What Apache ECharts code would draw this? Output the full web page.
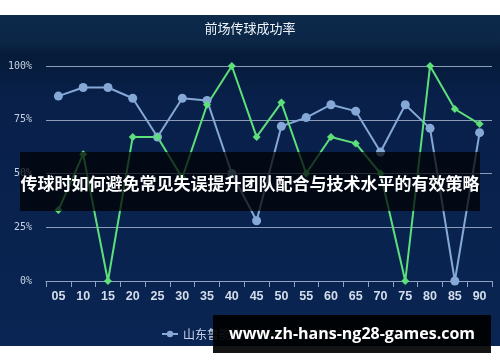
<!DOCTYPE html>
<html>
<head>
<meta charset="utf-8">
<script src="https://cdn.jsdelivr.net/npm/echarts@6/dist/echarts.min.js"></script>
<style>html,body{margin:0;padding:0;background:#fff}#c{width:500px;height:362px}</style>
</head>
<body>
<div id="c"></div>
<script>
const categories = ['05','10','15','20','25','30','35','40','45','50','55','60','65','70','75','80','85','90'];
const seriesNames = ['山东鲁能泰山', '广州恒大淘宝'];
const blueValues = [86, 90, 90, 85, 67, 85, 84, 50, 28, 72, 76, 82, 79, 60, 82, 71, 0, 69];
const greenValues = [33, 59, 0, 67, 67, 48, 82, 100, 67, 83, 50, 67, 64, 50, 0, 100, 80, 73];
const yTicks = [0, 25, 50, 75, 100];
const chartTitle = '前场传球成功率';
const overlayText = '传球时如何避免常见失误提升团队配合与技术水平的有效策略';
const watermarkText = 'www.zh-hans-ng28-games.com';

const chart = echarts.init(document.getElementById('c'));
chart.setOption({
  backgroundColor: '#ffffff',
  animation: false,
  title: {
    text: chartTitle, left: 'center', top: 17,
    textStyle: {color: '#eef3fa', fontSize: 13, fontWeight: 'normal', fontFamily: 'Noto Sans CJK SC'}
  },
  legend: {
    bottom: 17, left: 156, itemWidth: 16, itemHeight: 8, itemGap: 12,
    textStyle: {color: '#c8d4e6', fontSize: 12, fontFamily: 'Noto Sans CJK SC'},
    data: seriesNames
  },
  grid: {left: 46, right: 8, top: 66, bottom: 81},
  xAxis: {
    type: 'category', data: categories, boundaryGap: true,
    axisLine: {lineStyle: {color: '#8ea2bf', width: 1}},
    axisTick: {show: true, length: 6, lineStyle: {color: '#8ea2bf'}},
    axisLabel: {color: '#d3ddeb', fontSize: 12.5, fontWeight: 'bold', margin: 9, fontFamily: 'Liberation Sans'}
  },
  yAxis: {
    type: 'value', min: 0, max: 100, interval: 25,
    axisLine: {show: false}, axisTick: {show: false},
    splitLine: {lineStyle: {color: '#8c9cb6', width: 1}},
    axisLabel: {
      color: '#c6d2e4', fontSize: 10, margin: 14, fontFamily: 'DejaVu Sans Mono',
      formatter: v => yTicks.includes(v) ? v + '%' : ''
    }
  },
  graphic: [
    {type: 'rect', z: -10, silent: true, shape: {x: 0, y: 15, width: 500, height: 331},
      style: {fill: new echarts.graphic.LinearGradient(0, 0, 0, 1, [
        {offset: 0, color: '#0d2a4a'},
        {offset: 0.08, color: '#0b2646'},
        {offset: 0.12, color: '#061b38'},
        {offset: 0.25, color: '#08204a'},
        {offset: 1, color: '#0a2553'}
      ])}},
    {type: 'rect', z: 100, silent: true, shape: {x: 20, y: 152, width: 460, height: 59},
      style: {fill: 'rgba(0,0,0,0.72)'}},
    {type: 'text', z: 101, silent: true, x: 250, y: 184,
      style: {text: overlayText, fill: '#ffffff', font: 'bold 17px "Noto Sans CJK SC"', align: 'center', verticalAlign: 'middle'}},
    {type: 'rect', z: 100, silent: true, shape: {x: 213, y: 315, width: 278, height: 38},
      style: {fill: 'rgba(0,0,0,0.92)'}},
    {type: 'text', z: 101, silent: true, x: 352, y: 334,
      style: {text: watermarkText, fill: '#ffffff', font: 'bold 16px "Open Sans"', align: 'center', verticalAlign: 'middle'}}
  ],
  series: [
    {
      name: seriesNames[0], type: 'line', data: blueValues,
      symbol: 'circle', symbolSize: 9,
      lineStyle: {color: '#86a8d6', width: 2},
      itemStyle: {color: '#86a8d6'}
    },
    {
      name: seriesNames[1], type: 'line', data: greenValues,
      symbol: 'diamond', symbolSize: 8,
      lineStyle: {color: '#5de07a', width: 2},
      itemStyle: {color: '#5de07a'}
    }
  ]
});
</script>
</body>
</html>
